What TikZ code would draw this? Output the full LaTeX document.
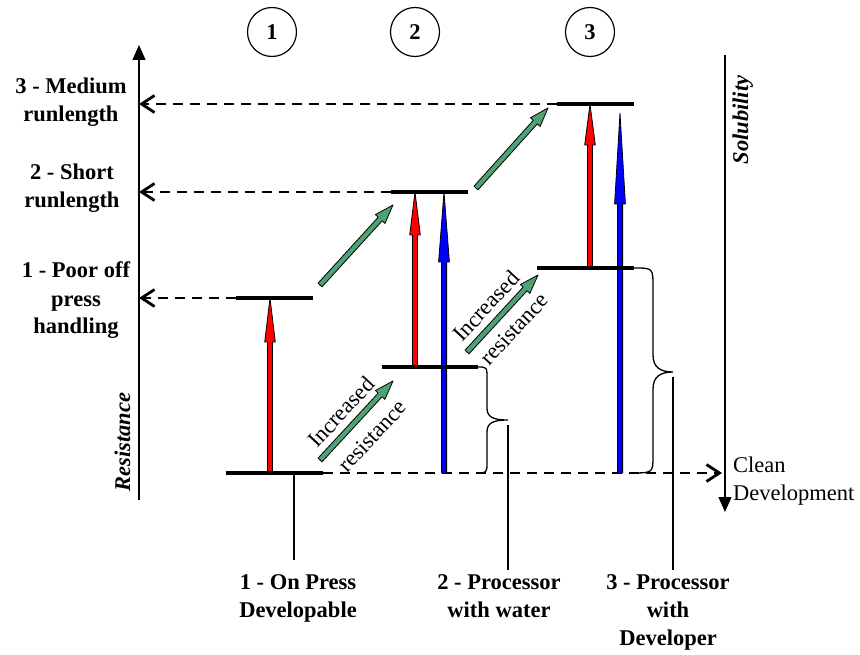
\documentclass[tikz,border=0pt]{standalone}
\usepackage{fontspec}
\setmainfont{Liberation Serif}
\usetikzlibrary{arrows.meta,calc}

\definecolor{risegreen}{RGB}{78,162,116}
\definecolor{solred}{RGB}{255,0,0}
\definecolor{solblue}{RGB}{0,0,255}

% Block arrow from #2 (tail) to #3 (tip):
% #1 style, #4 shaft half-width, #5 head half-width, #6 head length
\newcommand\blockarrow[6]{%
  \coordinate (ba-h) at ($(#3)!#6!(#2)$);
  \draw[#1] ($(#2)!#4!90:(#3)$) -- ($(ba-h)!#4!90:(#3)$) -- ($(ba-h)!#5!90:(#3)$)
    -- (#3) -- ($(ba-h)!#5!-90:(#3)$) -- ($(ba-h)!#4!-90:(#3)$)
    -- ($(#2)!#4!-90:(#3)$) -- cycle;
}

\begin{document}
\begin{tikzpicture}[x=1pt,y=-1pt,
  every node/.style={inner sep=0pt,font=\fontsize{22.5}{28}\selectfont},
  lbl/.style={font=\fontsize{22.5}{28}\selectfont\bfseries,align=center,anchor=base},
  axislbl/.style={font=\fontsize{22.5}{28}\selectfont\bfseries\itshape,rotate=90,anchor=base},
  diag/.style={font=\fontsize{22.5}{28}\selectfont,rotate=47},
  numcircle/.style={draw,circle,line width=1.2pt,minimum size=49pt,
    font=\fontsize{22.5}{28}\selectfont\bfseries},
  axis/.style={line width=1.4pt,-{Triangle[length=15pt,width=13pt]}},
  bar/.style={line width=3.5pt},
  guide/.style={line width=2.8pt,dash pattern=on 10pt off 7pt,
    -{Straight Barb[length=13pt,width=17pt]}},
  lead/.style={line width=1.2pt},
  brace/.style={line width=1.3pt},
  redarrow/.style={fill=solred,draw=black,line width=0.8pt,line join=round},
  bluearrow/.style={fill=solblue,draw=black,line width=0.8pt,line join=round},
  greenarrow/.style={fill=risegreen,draw=black,line width=0.8pt,line join=round},
]
\useasboundingbox (0,0) rectangle (860,655);

% level bars
\coordinate (l1b-w) at (226,473); \coordinate (l1b-e) at (323,473);
\coordinate (l1t-w) at (236,298); \coordinate (l1t-e) at (313,298);
\coordinate (l2b-w) at (382,367); \coordinate (l2b-e) at (478,367);
\coordinate (l2t-w) at (391,192); \coordinate (l2t-e) at (468,192);
\coordinate (l3b-w) at (537,268); \coordinate (l3b-e) at (634,268);
\coordinate (l3t-w) at (557,104); \coordinate (l3t-e) at (634,104);

% axes
\coordinate (res-bot) at (139,500); \coordinate (res-top) at (139,45);
\coordinate (sol-top) at (725,55);  \coordinate (sol-bot) at (725,512);
\coordinate (clean) at (722,473);
\draw[axis] (res-bot) -- (res-top);
\draw[axis] (sol-top) -- (sol-bot);

% numbered circles
\node[numcircle] (c1) at (272,32) {1};
\node[numcircle] (c2) at (415,32) {2};
\node[numcircle] (c3) at (590,32) {3};

% dashed guides to the resistance axis and to clean development
\draw[guide] (l3t-w) -- (l3t-w -| res-top);
\draw[guide] (l2t-w) -- (l2t-w -| res-top);
\draw[guide] (l1t-w) -- (l1t-w -| res-top);
\draw[guide] (l1b-e) -- (clean);

% solubility arrows
\coordinate (r1a) at (270,473); \coordinate (r1b) at (270,298);
\coordinate (r2a) at (415,367); \coordinate (r2b) at (415,192);
\coordinate (r3a) at (590,268); \coordinate (r3b) at (590,104);
\coordinate (b2a) at (444,473); \coordinate (b2b) at (444,192);
\coordinate (b3a) at (620,473); \coordinate (b3b) at (620,113);
\blockarrow{redarrow}{r1a}{r1b}{2.5pt}{5.3pt}{44pt}
\blockarrow{redarrow}{r2a}{r2b}{2.5pt}{5.3pt}{43pt}
\blockarrow{redarrow}{r3a}{r3b}{2.5pt}{5.3pt}{41pt}
\blockarrow{bluearrow}{b2a}{b2b}{2.6pt}{5.4pt}{70pt}
\blockarrow{bluearrow}{b3a}{b3b}{2.6pt}{5.4pt}{91pt}

% bars on top of the arrows
\draw[bar] (l1b-w) -- (l1b-e);
\draw[bar] (l1t-w) -- (l1t-e);
\draw[bar] (l2b-w) -- (l2b-e);
\draw[bar] (l2t-w) -- (l2t-e);
\draw[bar] (l3b-w) -- (l3b-e);
\draw[bar] (l3t-w) -- (l3t-e);

% green step arrows
\coordinate (g1a) at (320,285); \coordinate (g1b) at (393,205);
\coordinate (g2a) at (476,188); \coordinate (g2b) at (548,108);
\coordinate (g3a) at (320,460); \coordinate (g3b) at (393,381);
\coordinate (g4a) at (467,352); \coordinate (g4b) at (538,275);
\blockarrow{greenarrow}{g1a}{g1b}{2.7pt}{6.5pt}{19pt}
\blockarrow{greenarrow}{g2a}{g2b}{2.7pt}{6.5pt}{19pt}
\blockarrow{greenarrow}{g3a}{g3b}{2.7pt}{6.5pt}{19pt}
\blockarrow{greenarrow}{g4a}{g4b}{2.7pt}{6.5pt}{19pt}

\node[diag] (inc1) at (341,412) {Increased};
\node[diag] (res1) at (372,436) {resistance};
\node[diag] (inc2) at (486,306) {Increased};
\node[diag] (res2) at (514,329) {resistance};

% braces
\coordinate (br2) at (508,420);
\coordinate (br3) at (673,372);
\draw[brace] (l2b-e) .. controls (487,367) .. (487,379) -- (487,408)
  .. controls (487,417) and (493,420) .. (br2)
  .. controls (493,420) and (487,423) .. (487,432) -- (487,462)
  .. controls (487,473) .. (476,473);
\draw[brace] (l3b-e) .. controls (653,268) .. (653,287) -- (653,355)
  .. controls (653,367) and (660,372) .. (br3)
  .. controls (660,372) and (653,377) .. (653,389) -- (653,456)
  .. controls (653,473) .. (630,473);

% labels on the resistance axis (anchored at the baseline of the last line)
\node[lbl] (lab-med)   at (71,122) {3 - Medium\\runlength};
\node[lbl] (lab-short) at (72,208) {2 - Short\\runlength};
\node[lbl] (lab-poor)  at (76,334) {1 - Poor off\\press\\handling};
\node[axislbl] (lab-res) at (130,442) {Resistance};
\node[axislbl] (lab-sol) at (748,120) {Solubility};
\node[anchor=base west,align=left] (lab-clean) at (733,500) {Clean\\Development};

% process labels and leaders
\node[lbl] (p1) at (298,617) {1 - On Press\\Developable};
\node[lbl] (p2) at (499,617) {2 - Processor\\with water};
\node[lbl] (p3) at (668,645) {3 - Processor\\with\\Developer};
\coordinate (p1top) at (294,560);
\coordinate (p2top) at (508,570);
\coordinate (p3top) at (673,570);
\draw[lead] (294,473) -- (p1top);
\draw[lead] ($(br2)+(0,5)$) -- (p2top);
\draw[lead] ($(br3)+(0,5)$) -- (p3top);
\end{tikzpicture}
\end{document}
